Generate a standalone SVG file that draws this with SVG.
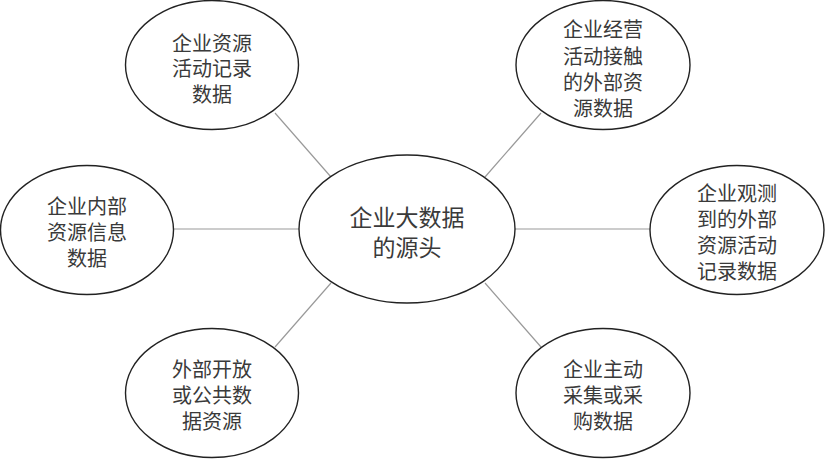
<svg xmlns="http://www.w3.org/2000/svg" width="826" height="469" viewBox="0 0 826 469">
<style>
.node ellipse{fill:#fff;stroke:#222;stroke-width:1.4}
.node text{font-family:"Noto Sans CJK SC","Noto Sans",sans-serif;font-size:20px;fill:#3a3a3a;text-anchor:middle;dominant-baseline:central}
.node.center text{font-size:23px}
#connectors line{stroke:#999;stroke-width:1.2}
</style>
<rect width="826" height="469" fill="#fff"/>
<g id="connectors">
<line x1="275" y1="113" x2="331" y2="177"/>
<line x1="541" y1="113" x2="485" y2="177"/>
<line x1="174" y1="229" x2="299" y2="229"/>
<line x1="515" y1="229" x2="650" y2="229"/>
<line x1="331" y1="283" x2="275" y2="347"/>
<line x1="485" y1="283" x2="541" y2="347"/>
</g>
<g id="center" class="node center">
<ellipse cx="407" cy="229" rx="108" ry="74"/>
<text><tspan x="407" y="216">企业大数据</tspan><tspan x="407" y="246">的源头</tspan></text>
</g>
<g id="n-top-left" class="node">
<ellipse cx="212" cy="65" rx="86.5" ry="64.5"/>
<text><tspan x="212" y="42">企业资源</tspan><tspan x="212" y="67">活动记录</tspan><tspan x="212" y="93">数据</tspan></text>
</g>
<g id="n-top-right" class="node">
<ellipse cx="603" cy="65" rx="87" ry="64.5"/>
<text><tspan x="603" y="28">企业经营</tspan><tspan x="603" y="55">活动接触</tspan><tspan x="603" y="81">的外部资</tspan><tspan x="603" y="107">源数据</tspan></text>
</g>
<g id="n-left" class="node">
<ellipse cx="87" cy="230" rx="86.5" ry="64.5"/>
<text><tspan x="87" y="205">企业内部</tspan><tspan x="87" y="231">资源信息</tspan><tspan x="87" y="257">数据</tspan></text>
</g>
<g id="n-right" class="node">
<ellipse cx="737" cy="230" rx="87" ry="64.5"/>
<text><tspan x="737" y="192">企业观测</tspan><tspan x="737" y="218">到的外部</tspan><tspan x="737" y="244">资源活动</tspan><tspan x="737" y="270">记录数据</tspan></text>
</g>
<g id="n-bottom-left" class="node">
<ellipse cx="212" cy="393" rx="86.5" ry="64.5"/>
<text><tspan x="212" y="368">外部开放</tspan><tspan x="212" y="394">或公共数</tspan><tspan x="212" y="420">据资源</tspan></text>
</g>
<g id="n-bottom-right" class="node">
<ellipse cx="603" cy="393" rx="87" ry="64.5"/>
<text><tspan x="603" y="368">企业主动</tspan><tspan x="603" y="394">采集或采</tspan><tspan x="603" y="420">购数据</tspan></text>
</g>
</svg>
